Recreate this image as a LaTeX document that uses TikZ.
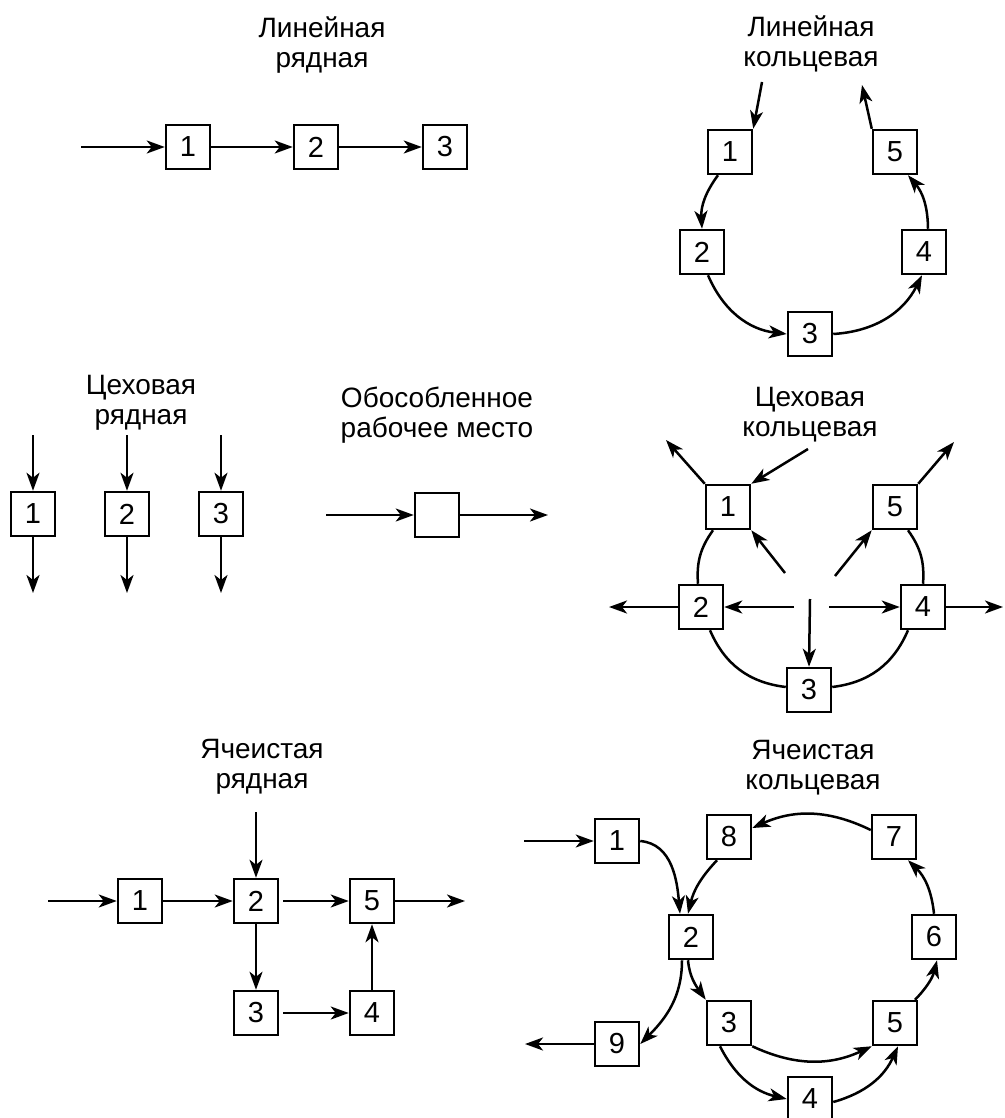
\documentclass[tikz,border=0pt]{standalone}
\usepackage{fontspec}
\setmainfont{Liberation Sans}
\usetikzlibrary{arrows.meta}
\begin{document}
\begin{tikzpicture}[x=1pt,y=1pt,
  box/.style={draw,line width=2.5pt,minimum width=44pt,minimum height=44pt,inner sep=0pt,font=\fontsize{29}{30}\selectfont},
  ttl/.style={align=center,font=\fontsize{28}{30}\selectfont,inner sep=0pt},
  arr/.style={line width=2.5pt,-{Stealth[length=18pt,width=13pt,inset=5pt]}},
  ln/.style={line width=2.5pt}]
\useasboundingbox (0,0) rectangle (1004,-1118);

% A: Linear row
\node[ttl] (tA) at (322,-45) {Линейная\\рядная};
\node[box] (A1) at (188,-147) {1};
\node[box] (A2) at (316,-147) {2};
\node[box] (A3) at (445,-147) {3};
\coordinate (Ain) at (81,-147);
\draw[arr] (Ain) -- (A1);
\draw[arr] (A1) -- (A2);
\draw[arr] (A2) -- (A3);

% B: Linear ring
\node[ttl] (tB) at (811,-44) {Линейная\\кольцевая};
\node[box] (B1) at (730,-152) {1};
\node[box] (B2) at (702,-252) {2};
\node[box] (B3) at (810,-334) {3};
\node[box] (B4) at (924,-252) {4};
\node[box] (B5) at (895,-152) {5};
\coordinate (Bin) at (762,-82);
\coordinate (Bout) at (862,-85);
\draw[arr] (Bin) -- (B1.north east);
\draw[arr] (B5.north west) -- (Bout);
\draw[arr] ([xshift=-12pt]B1.south) to[bend right=20] (B2.north);
\draw[arr] ([xshift=6pt]B2.south) to[bend right=30] (B3.west);
\draw[arr] (B3.east) to[bend right=30] ([xshift=-2pt]B4.south);
\draw[arr] ([xshift=4pt]B4.north) to[bend right=20] ([xshift=13pt]B5.south);

% C: Shop row
\node[ttl] (tC) at (141,-403) {Цеховая\\рядная};
\foreach \n/\x in {1/33,2/127,3/221}{
  \node[box] (C\n) at (\x,-514) {\n};
  \coordinate (Ci\n) at (\x,-435);
  \coordinate (Co\n) at (\x,-593);
  \draw[arr] (Ci\n) -- (C\n);
  \draw[arr] (C\n) -- (Co\n);
}

% D: Isolated workplace
\node[ttl] (tD) at (437,-415) {Обособленное\\рабочее место};
\node[box] (D) at (437,-515) {};
\coordinate (Di) at (326,-515);
\coordinate (Do) at (548,-515);
\draw[arr] (Di) -- (D);
\draw[arr] (D) -- (Do);

% E: Shop ring
\node[ttl] (tE) at (810,-415) {Цеховая\\кольцевая};
\node[box] (E1) at (728,-507) {1};
\node[box] (E2) at (701,-607) {2};
\node[box] (E3) at (809,-690) {3};
\node[box] (E4) at (923,-607) {4};
\node[box] (E5) at (895,-507) {5};
\draw[ln] ([xshift=-15pt]E1.south) to[bend right=20] ([xshift=-3pt]E2.north);
\draw[ln] ([xshift=9pt]E2.south) to[bend right=30] ([yshift=3pt]E3.west);
\draw[ln] ([yshift=3pt]E3.east) to[bend right=30] ([xshift=-15pt]E4.south);
\draw[ln] (E4.north) to[bend right=20] ([xshift=13pt]E5.south);
\coordinate (E1o) at (666,-440);
\coordinate (E1i) at (808,-449);
\coordinate (E5o) at (954,-442);
\coordinate (Ec1) at (785,-573);
\coordinate (Ec5) at (835,-576);
\coordinate (Ec2) at (794,-607);
\coordinate (Ec4) at (829,-607);
\coordinate (Ec3) at (810,-599);
\coordinate (E2o) at (609,-607);
\coordinate (E4o) at (1003,-607);
\draw[arr] (E1.north west) -- (E1o);
\draw[arr] (E1i) -- (E1.north east);
\draw[arr] (E5.north east) -- (E5o);
\draw[arr] (Ec1) -- (E1.south east);
\draw[arr] (Ec5) -- (E5.south west);
\draw[arr] (Ec2) -- (E2.east);
\draw[arr] (Ec4) -- (E4.west);
\draw[arr] (Ec3) -- (E3.north);
\draw[arr] (E2.west) -- (E2o);
\draw[arr] (E4.east) -- (E4o);

% F: Cellular row
\node[ttl] (tF) at (262,-767) {Ячеистая\\рядная};
\node[box] (F1) at (140,-901) {1};
\node[box] (F2) at (256,-901) {2};
\node[box] (F5) at (372,-901) {5};
\node[box] (F3) at (256,-1013) {3};
\node[box] (F4) at (372,-1013) {4};
\coordinate (Fin) at (48,-901);
\coordinate (Fout) at (465,-901);
\coordinate (Ftop) at (256,-812);
\draw[arr] (Fin) -- (F1);
\draw[arr] (F1) -- (F2);
\draw[arr] (Ftop) -- (F2);
\draw[arr,shorten <=4pt] (F2) -- (F5);
\draw[arr] (F5) -- (Fout);
\draw[arr] (F2) -- (F3);
\draw[arr,shorten <=4pt] (F3) -- (F4);
\draw[arr] (F4) -- (F5);

% G: Cellular ring
\node[ttl] (tG) at (813,-768) {Ячеистая\\кольцевая};
\node[box] (G1) at (617,-841) {1};
\node[box] (G8) at (729,-837) {8};
\node[box] (G7) at (894,-837) {7};
\node[box] (G2) at (691,-937) {2};
\node[box] (G6) at (934,-937) {6};
\node[box] (G3) at (729,-1023) {3};
\node[box] (G5) at (895,-1023) {5};
\node[box] (G9) at (617,-1044) {9};
\node[box] (G4) at (810,-1099) {4};
\coordinate (Gin) at (524,-841);
\coordinate (Gout) at (525,-1044);
\draw[arr] (Gin) -- (G1.west);
\draw[arr] (G1.east) to[out=-5,in=95] ([xshift=-11pt]G2.north);
\draw[arr] ([xshift=-12pt]G8.south) to[bend right=15] ([xshift=-3pt]G2.north);
\draw[arr] ([yshift=7pt]G7.west) to[bend right=25] ([yshift=9pt]G8.east);
\draw[arr] (G6.north) to[bend right=20] ([xshift=14pt]G7.south);
\draw[arr] ([xshift=20pt]G5.north) to[bend right=15] ([xshift=3pt]G6.south);
\draw[arr] (G3.south east) to[bend right=25] (G5.south west);
\draw[arr] ([xshift=-9pt]G3.south) to[bend right=25] (G4.west);
\draw[arr] ([yshift=-3pt]G4.east) to[bend right=25] ([xshift=3pt]G5.south);
\draw[arr] ([xshift=-3pt]G2.south) to[out=-85,in=125] (G3.north west);
\draw[arr] ([xshift=-9pt]G2.south) to[out=-90,in=45] (G9.east);
\draw[arr] (G9.west) -- (Gout);
\end{tikzpicture}
\end{document}
